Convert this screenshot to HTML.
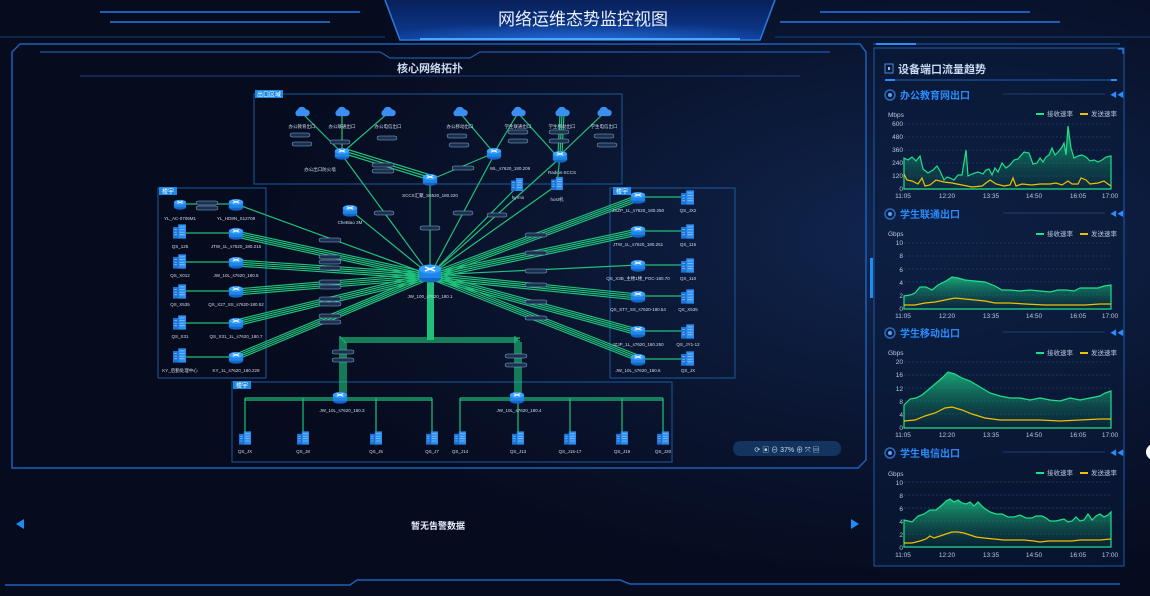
<!DOCTYPE html>
<html><head><meta charset="utf-8"><style>
html,body{margin:0;padding:0;background:#060b1e;}
svg{display:block;font-family:"Liberation Sans","Noto Sans CJK SC",sans-serif;}
</style></head><body>
<svg width="1150" height="596" viewBox="0 0 1150 596" xmlns="http://www.w3.org/2000/svg">
<defs>
<radialGradient id="bg" cx="0.8" cy="0.4" r="0.6"><stop offset="0" stop-color="#112650"/><stop offset="0.55" stop-color="#0a1530"/><stop offset="1" stop-color="#060b1e"/></radialGradient>
<linearGradient id="ban" x1="0" y1="0" x2="0" y2="1"><stop offset="0" stop-color="#08205a"/><stop offset="1" stop-color="#0d3c96"/></linearGradient>
<radialGradient id="glow" cx="0.5" cy="1" r="0.6"><stop offset="0" stop-color="#2a7cf0" stop-opacity="0.7"/><stop offset="1" stop-color="#2a7cf0" stop-opacity="0"/></radialGradient>
<linearGradient id="ga" x1="0" y1="0" x2="0" y2="1"><stop offset="0" stop-color="#1fd38a" stop-opacity="0.75"/><stop offset="1" stop-color="#0d5a4a" stop-opacity="0.2"/></linearGradient>
<symbol id="sw" viewBox="0 0 24 20"><ellipse cx="12" cy="15" rx="11" ry="4.5" fill="#1565c8"/><rect x="1" y="6" width="22" height="9" fill="#1e86e8"/><ellipse cx="12" cy="6" rx="11" ry="4.5" fill="#3aa0ff"/><path d="M7 4l10 4M17 4L7 8" stroke="#fff" stroke-width="1.4"/></symbol>
<symbol id="bd" viewBox="0 0 20 22"><rect x="0" y="4" width="8" height="18" fill="#1b74d8"/><rect x="8" y="0" width="12" height="22" fill="#2b8cf0"/><path d="M10 4h8M10 8h8M10 12h8M10 16h8M2 8h4M2 12h4M2 16h4" stroke="#9fd0ff" stroke-width="1"/></symbol>
<symbol id="cl" viewBox="0 0 24 16"><path d="M5 15a5 5 0 0 1 0-9 7 7 0 0 1 13-1 5 5 0 0 1 1 10z" fill="#3a8ff0"/></symbol>
</defs>
<rect width="1150" height="596" fill="url(#bg)"/>
<!-- header -->
<path d="M100 12H360M110 22H330M780 22H1060M820 12H1030" stroke="#1d5fb8" stroke-width="2"/>
<path d="M0 37H385M775 37H1150" stroke="#16427e" stroke-width="1"/>
<path d="M385 0H775L760 40H400Z" fill="url(#ban)"/>
<rect x="400" y="10" width="360" height="30" fill="url(#glow)"/>
<path d="M385 0L400 40H760L775 0" fill="none" stroke="#2a7be0" stroke-width="1.5"/>
<path d="M420 39H740" stroke="#4aa8ff" stroke-width="2"/>
<text x="583" y="25" text-anchor="middle" font-size="17" fill="#e8f0ff">网络运维态势监控视图</text>
<!-- left frame -->
<path d="M12 52L20 44H860L866 52V460L858 468H12Z" fill="none" stroke="#1d5fb8" stroke-width="1.5"/>
<path d="M40 52H380L390 58H470L480 52H830" fill="none" stroke="#2769c5" stroke-width="1"/>
<path d="M80 76H800" stroke="#15427e"/>
<text x="430" y="72" text-anchor="middle" font-size="11" font-weight="bold" fill="#c8d8f0">核心网络拓扑</text>
<!-- group boxes -->
<rect x="254" y="94" width="368" height="90" fill="none" stroke="#1a5a9a"/>
<rect x="255" y="90" width="28" height="8" fill="#1c8ae6"/><text x="269" y="96.5" text-anchor="middle" font-size="6" fill="#fff">出口区域</text>
<rect x="158" y="188" width="108" height="190" fill="none" stroke="#1a5a9a"/>
<rect x="159" y="187" width="18" height="8" fill="#1c8ae6"/><text x="168" y="193.5" text-anchor="middle" font-size="6" fill="#fff">楼宇</text>
<rect x="610" y="188" width="125" height="190" fill="none" stroke="#1a5a9a"/>
<rect x="613" y="187" width="18" height="8" fill="#1c8ae6"/><text x="622" y="193.5" text-anchor="middle" font-size="6" fill="#fff">楼宇</text>
<rect x="232" y="382" width="440" height="80" fill="none" stroke="#1a5a9a"/>
<rect x="233" y="381" width="18" height="8" fill="#1c8ae6"/><text x="242" y="387.5" text-anchor="middle" font-size="6" fill="#fff">楼宇</text>
<!-- links -->
<g stroke="#1fc07a" stroke-width="1.2" fill="none">
<path d="M430 275L236 204"/>
<path d="M430 273L236 231M430 275L236 233M430 277L236 235M430 279L236 237"/>
<path d="M430 273L236 260M430 275L236 262M430 277L236 264M430 279L236 266"/>
<path d="M430 273L236 289M430 275L236 291M430 277L236 293M430 279L236 295"/>
<path d="M430 273L236 320M430 275L236 322M430 277L236 324M430 279L236 326"/>
<path d="M430 273L236 354M430 275L236 356M430 277L236 358M430 279L236 360"/>
<path d="M430 273L638 195M430 275L638 197M430 277L638 199M430 279L638 201"/>
<path d="M430 273L638 229M430 275L638 231M430 277L638 233M430 279L638 235"/>
<path d="M430 275L638 265"/>
<path d="M430 273L638 294M430 275L638 296M430 277L638 298M430 279L638 300"/>
<path d="M430 273L638 329M430 275L638 331M430 277L638 333M430 279L638 335"/>
<path d="M430 273L638 355M430 275L638 357M430 277L638 359M430 279L638 361"/>
<path d="M430 275L430 180M430 275L350 210M430 275L342 155M430 275L494 155M430 275L517 187M430 275L557 185M430 275L560 158"/>
<path d="M342 153L302 113M342 153L342 113M342 153L388 113M342 153L430 180M344 151L432 178M346 149L434 176"/>
<path d="M494 153L460 113M494 153L518 113M494 153L430 180M560 155L562 113M556 155L518 113M560 155L604 113M560 155L557 185M558 155L560 113M562 155L564 113"/>
<path d="M236 204H180M236 233H180M236 262H180M236 291H180M236 323H180M236 357H180"/>
<path d="M638 197H688M638 231H688M638 265H688M638 296H688M638 331H688M638 359H688"/>
<path d="M342 338V398M344 340V398M346 342V398M340 336V398M517 338V398M519 340V398M521 342V398M515 336V398"/>
<path d="M340 338H520M342 340H518M344 342H516"/>
<path d="M245 398H432M245 400H432M460 398H663M460 400H663"/>
<path d="M245 398V438M303 398V438M376 398V438M432 398V438M460 398V438M518 398V438M570 398V438M622 398V438M663 398V438"/>
</g>
<rect x="427" y="282" width="7" height="58" fill="#1fc07a"/>
<!-- link labels -->
<g fill="#1a3050" stroke="#8ab0d0" stroke-width="0.5">
<rect x="319" y="238" width="22" height="4" rx="2"/><rect x="319" y="255" width="22" height="4" rx="2"/><rect x="319" y="260" width="22" height="4" rx="2"/><rect x="319" y="266" width="22" height="4" rx="2"/><rect x="319" y="280" width="22" height="4" rx="2"/><rect x="319" y="285" width="22" height="4" rx="2"/><rect x="319" y="297" width="22" height="4" rx="2"/><rect x="319" y="302" width="22" height="4" rx="2"/><rect x="319" y="314" width="22" height="4" rx="2"/><rect x="319" y="320" width="22" height="4" rx="2"/>
<rect x="525" y="233" width="22" height="4" rx="2"/><rect x="525" y="251" width="22" height="4" rx="2"/><rect x="525" y="269" width="22" height="4" rx="2"/><rect x="525" y="283" width="22" height="4" rx="2"/><rect x="525" y="300" width="22" height="4" rx="2"/><rect x="525" y="316" width="22" height="4" rx="2"/>
<rect x="332" y="350" width="22" height="4" rx="2"/><rect x="332" y="358" width="22" height="4" rx="2"/><rect x="505" y="354" width="22" height="4" rx="2"/><rect x="505" y="363" width="22" height="4" rx="2"/>
<rect x="420" y="226" width="20" height="4" rx="2"/><rect x="374" y="211" width="20" height="4" rx="2"/><rect x="453" y="211" width="20" height="4" rx="2"/><rect x="487" y="213" width="20" height="4" rx="2"/>
<rect x="290" y="133" width="20" height="4" rx="2"/><rect x="292" y="142" width="20" height="4" rx="2"/><rect x="330" y="140" width="20" height="4" rx="2"/><rect x="377" y="136" width="20" height="4" rx="2"/><rect x="447" y="134" width="20" height="4" rx="2"/><rect x="449" y="143" width="20" height="4" rx="2"/><rect x="508" y="130" width="20" height="4" rx="2"/><rect x="508" y="139" width="20" height="4" rx="2"/><rect x="549" y="130" width="20" height="4" rx="2"/><rect x="549" y="139" width="20" height="4" rx="2"/><rect x="594" y="134" width="20" height="4" rx="2"/><rect x="597" y="143" width="20" height="4" rx="2"/><rect x="372" y="163" width="22" height="4" rx="2"/><rect x="372" y="169" width="22" height="4" rx="2"/><rect x="452" y="166" width="22" height="4" rx="2"/>
<rect x="196" y="201" width="22" height="4" rx="2"/><rect x="196" y="206" width="22" height="4" rx="2"/>
</g>
<!-- icons -->
<g>
<use href="#cl" x="294" y="106" width="16" height="11"/><use href="#cl" x="334" y="106" width="16" height="11"/><use href="#cl" x="380" y="106" width="16" height="11"/><use href="#cl" x="452" y="106" width="16" height="11"/><use href="#cl" x="510" y="106" width="16" height="11"/><use href="#cl" x="554" y="106" width="16" height="11"/><use href="#cl" x="596" y="106" width="16" height="11"/>
<use href="#sw" x="334" y="147" width="16" height="13"/><use href="#sw" x="486" y="147" width="16" height="13"/><use href="#sw" x="552" y="150" width="16" height="13"/><use href="#sw" x="422" y="173" width="16" height="13"/><use href="#sw" x="342" y="204" width="16" height="13"/>
<use href="#bd" x="511" y="178" width="12" height="13"/><use href="#bd" x="551" y="177" width="12" height="13"/>
<rect x="421" y="265" width="18" height="16" rx="2" fill="#1a3a70"/><use href="#sw" x="418" y="263" width="24" height="20"/>
<use href="#sw" x="228" y="198" width="16" height="13"/><use href="#sw" x="228" y="227" width="16" height="13"/><use href="#sw" x="228" y="256" width="16" height="13"/><use href="#sw" x="228" y="285" width="16" height="13"/><use href="#sw" x="228" y="317" width="16" height="13"/><use href="#sw" x="228" y="351" width="16" height="13"/>
<use href="#sw" x="172" y="199" width="16" height="11"/>
<use href="#bd" x="173" y="224" width="13" height="15"/><use href="#bd" x="173" y="254" width="13" height="15"/><use href="#bd" x="173" y="284" width="13" height="15"/><use href="#bd" x="173" y="315" width="13" height="15"/><use href="#bd" x="173" y="348" width="13" height="15"/>
<use href="#sw" x="630" y="191" width="16" height="13"/><use href="#sw" x="630" y="225" width="16" height="13"/><use href="#sw" x="630" y="259" width="16" height="13"/><use href="#sw" x="630" y="290" width="16" height="13"/><use href="#sw" x="630" y="325" width="16" height="13"/><use href="#sw" x="630" y="353" width="16" height="13"/>
<use href="#bd" x="681" y="190" width="13" height="15"/><use href="#bd" x="681" y="224" width="13" height="15"/><use href="#bd" x="681" y="258" width="13" height="15"/><use href="#bd" x="681" y="289" width="13" height="15"/><use href="#bd" x="681" y="324" width="13" height="15"/><use href="#bd" x="681" y="351" width="13" height="15"/>
<use href="#sw" x="332" y="391" width="16" height="13"/><use href="#sw" x="509" y="391" width="16" height="13"/>
<use href="#bd" x="239" y="431" width="12" height="14"/><use href="#bd" x="297" y="431" width="12" height="14"/><use href="#bd" x="370" y="431" width="12" height="14"/><use href="#bd" x="426" y="431" width="12" height="14"/><use href="#bd" x="454" y="431" width="12" height="14"/><use href="#bd" x="512" y="431" width="12" height="14"/><use href="#bd" x="564" y="431" width="12" height="14"/><use href="#bd" x="616" y="431" width="12" height="14"/><use href="#bd" x="657" y="431" width="12" height="14"/>
</g>
<g font-size="4.5" fill="#d0dcee" text-anchor="middle">
<text x="302" y="128">办公教育出口</text><text x="342" y="128">办公联通出口</text><text x="388" y="128">办公电信出口</text><text x="460" y="128">办公移动出口</text><text x="518" y="128">学生联通出口</text><text x="562" y="128">学生移动出口</text><text x="604" y="128">学生电信出口</text>
<text x="320" y="171">办公出口防火墙</text><text x="510" y="170">WL_s7620_180.209</text><text x="562" y="174">Radius-SCCS</text><text x="430" y="197">SCCS汇聚_S6520_180.220</text><text x="518" y="199">hyrms</text><text x="557" y="201">host机</text><text x="350" y="224">CheBiao 3M</text>
<text x="430" y="298">JW_100_s7620_180.1</text>
<text x="180" y="220">YL_AC-0706M1</text><text x="236" y="220">YL_HD8N_S12708</text>
<text x="180" y="248">QS_125</text><text x="236" y="248">JTW_1L_s7620_180.215</text>
<text x="180" y="277">QS_X012</text><text x="236" y="277">JW_10L_s7620_180.5</text>
<text x="180" y="306">QS_X535</text><text x="236" y="306">QS_X27_SS_s7620-180.52</text>
<text x="180" y="338">QS_X31</text><text x="236" y="338">QS_X31_1L_s7620_180.7</text>
<text x="180" y="372">KY_后勤处理中心</text><text x="236" y="372">KY_1L_s7620_180.229</text>
<text x="638" y="212">JSZP_1L_s7620_180.250</text><text x="688" y="212">QS_JX2</text>
<text x="638" y="246">JTW_1L_s7620_180.251</text><text x="688" y="246">QS_115</text>
<text x="638" y="280">QS_X3B_主楼1楼_POC-180.70</text><text x="688" y="280">QS_110</text>
<text x="638" y="311">QS_ST7_SS_s7620-180.54</text><text x="688" y="311">QS_X535</text>
<text x="638" y="346">JZJP_1L_s7620_180.250</text><text x="688" y="346">QS_JY1-12</text>
<text x="638" y="372">JW_10L_s7620_180.6</text><text x="688" y="372">QS_JX</text>
<text x="342" y="412">JW_10L_s7620_180.3</text><text x="519" y="412">JW_10L_s7620_180.4</text>
<text x="245" y="453">QS_JX</text><text x="303" y="453">QS_J8</text><text x="376" y="453">QS_J5</text><text x="432" y="453">QS_J7</text><text x="460" y="453">QS_J14</text><text x="518" y="453">QS_J13</text><text x="570" y="453">QS_J15-17</text><text x="622" y="453">QS_J19</text><text x="663" y="453">QS_J20</text>
</g>
<!-- zoom controls -->
<rect x="733" y="441" width="108" height="15" rx="7" fill="#12345e"/>
<text x="787" y="452" text-anchor="middle" font-size="7" fill="#d0dcee">⟳ ▣ ⊖   37%   ⊕ ⤧ ▤</text>
<!-- alerts -->
<path d="M16 519L24 524L16 529Z" fill="#1e8cf0" transform="rotate(180 20 524)"/>
<path d="M851 519L859 524L851 529Z" fill="#1e8cf0"/>
<text x="438" y="529" text-anchor="middle" font-size="9" font-weight="bold" fill="#e8f0ff">暂无告警数据</text>
<path d="M5 585H350L357 580H620L630 584H1120" stroke="#1d5fb8" stroke-width="1.5" fill="none"/>
<!-- right panel -->
<path d="M873 44H1120" stroke="#1a5fc0"/><rect x="876" y="43" width="40" height="2" fill="#2a8cff"/>
<rect x="874" y="48" width="250" height="518" fill="#0a1a3a" fill-opacity="0.6" stroke="#1c5aa8"/>
<path d="M1118 49L1123 49L1123 54" stroke="#2a8cff" fill="none"/>
<rect x="885" y="64" width="8" height="9" fill="none" stroke="#4a8ad8"/><rect x="888" y="67" width="2" height="3" fill="#8ac0ff"/>
<text x="898" y="73" font-size="11" font-weight="bold" fill="#c8d8f0">设备端口流量趋势</text>
<path d="M885 80H1113" stroke="#1d5fb8"/><rect x="885" y="79" width="10" height="2" fill="#2a8cff"/><rect x="1111" y="79" width="6" height="2" fill="#2a8cff"/>
<g font-size="10" font-weight="bold" fill="#2a8cff">
<circle cx="890" cy="95" r="5" fill="none" stroke="#2a6ac0" stroke-width="1.5"/><circle cx="890" cy="95" r="2" fill="#5aa0f0"/><text x="900" y="99">办公教育网出口</text>
<circle cx="890" cy="214" r="5" fill="none" stroke="#2a6ac0" stroke-width="1.5"/><circle cx="890" cy="214" r="2" fill="#5aa0f0"/><text x="900" y="218">学生联通出口</text>
<circle cx="890" cy="333" r="5" fill="none" stroke="#2a6ac0" stroke-width="1.5"/><circle cx="890" cy="333" r="2" fill="#5aa0f0"/><text x="900" y="337">学生移动出口</text>
<circle cx="890" cy="453" r="5" fill="none" stroke="#2a6ac0" stroke-width="1.5"/><circle cx="890" cy="453" r="2" fill="#5aa0f0"/><text x="900" y="457">学生电信出口</text>
</g>
<g stroke="#1d3f70"><path d="M1003 94H1105M1003 213H1105M1003 332H1105M1003 452H1105"/></g>
<g fill="#2a8cff" font-size="7"><text x="1110" y="97">◀◀</text><text x="1110" y="216">◀◀</text><text x="1110" y="335">◀◀</text><text x="1110" y="455">◀◀</text></g>
<g font-size="6.5" fill="#b8c8e0">
<text x="888" y="117">Mbps</text>
<rect x="1036" y="113" width="8" height="2" fill="#1fe08a"/><text x="1047" y="116">接收速率</text><rect x="1080" y="113" width="8" height="2" fill="#f0c000"/><text x="1091" y="116">发送速率</text>
<g text-anchor="end"><text x="903" y="126">600</text><text x="903" y="139">480</text><text x="903" y="152">360</text><text x="903" y="165">240</text><text x="903" y="178">120</text><text x="903" y="191">0</text></g>
<g text-anchor="middle"><text x="903" y="198">11:05</text><text x="947" y="198">12:20</text><text x="991" y="198">13:35</text><text x="1034" y="198">14:50</text><text x="1078" y="198">16:05</text><text x="1110" y="198">17:00</text></g>
<text x="888" y="236">Gbps</text>
<rect x="1036" y="233" width="8" height="2" fill="#1fe08a"/><text x="1047" y="236">接收速率</text><rect x="1080" y="233" width="8" height="2" fill="#f0c000"/><text x="1091" y="236">发送速率</text>
<g text-anchor="end"><text x="903" y="245">10</text><text x="903" y="258">8</text><text x="903" y="272">6</text><text x="903" y="285">4</text><text x="903" y="298">2</text><text x="903" y="311">0</text></g>
<g text-anchor="middle"><text x="903" y="318">11:05</text><text x="947" y="318">12:20</text><text x="991" y="318">13:35</text><text x="1034" y="318">14:50</text><text x="1078" y="318">16:05</text><text x="1110" y="318">17:00</text></g>
<text x="888" y="355">Gbps</text>
<rect x="1036" y="352" width="8" height="2" fill="#1fe08a"/><text x="1047" y="355">接收速率</text><rect x="1080" y="352" width="8" height="2" fill="#f0c000"/><text x="1091" y="355">发送速率</text>
<g text-anchor="end"><text x="903" y="364">20</text><text x="903" y="377">16</text><text x="903" y="391">12</text><text x="903" y="404">8</text><text x="903" y="417">4</text><text x="903" y="430">0</text></g>
<g text-anchor="middle"><text x="903" y="437">11:05</text><text x="947" y="437">12:20</text><text x="991" y="437">13:35</text><text x="1034" y="437">14:50</text><text x="1078" y="437">16:05</text><text x="1110" y="437">17:00</text></g>
<text x="888" y="476">Gbps</text>
<rect x="1036" y="472" width="8" height="2" fill="#1fe08a"/><text x="1047" y="475">接收速率</text><rect x="1080" y="472" width="8" height="2" fill="#f0c000"/><text x="1091" y="475">发送速率</text>
<g text-anchor="end"><text x="903" y="485">10</text><text x="903" y="498">8</text><text x="903" y="511">6</text><text x="903" y="524">4</text><text x="903" y="537">2</text><text x="903" y="550">0</text></g>
<g text-anchor="middle"><text x="903" y="557">11:05</text><text x="947" y="557">12:20</text><text x="991" y="557">13:35</text><text x="1034" y="557">14:50</text><text x="1078" y="557">16:05</text><text x="1110" y="557">17:00</text></g>
</g>
<g stroke="#1a3560" stroke-dasharray="2 2"><path d="M904 124H1111M904 137H1111M904 150H1111M904 163H1111M904 176H1111M904 243H1111M904 256H1111M904 269H1111M904 282H1111M904 295H1111M904 362H1111M904 375H1111M904 388H1111M904 401H1111M904 414H1111M904 482H1111M904 495H1111M904 508H1111M904 521H1111M904 534H1111"/></g>
<path d="M904 189H1111M904 309H1111M904 428H1111M904 547H1111" stroke="#3a5a80"/>
<path d="M904 158L908 160L912 157L916 161L920 156L923 169L928 173L933 170L937 166L940 171L944 180L947 177L950 178L954 180L958 175L962 175L966 150L968 176L972 174L978 172L983 174L986 170L989 169L992 175L995 168L998 172L1002 163L1006 168L1010 165L1014 160L1018 159L1024 152L1029 153L1033 164L1037 163L1040 158L1043 162L1046 157L1049 155L1052 148L1055 155L1058 152L1062 147L1064 143L1066 155L1068 126L1071 148L1074 158L1078 156L1082 155L1086 157L1090 161L1094 160L1098 162L1102 160L1106 157L1111 156L1111 189L904 189Z" fill="url(#ga)" stroke="#1fe08a" stroke-width="1.2"/>
<path d="M904 174L907 180L912 181L918 184L922 178L925 186L930 185L936 180L944 182L952 183L962 185L972 187L982 186L990 180L996 184L1004 186L1010 185L1013 178L1016 186L1022 184L1032 185L1040 184L1050 184L1056 183L1062 185L1068 181L1072 184L1078 184L1081 178L1086 180L1090 184L1098 183L1104 181L1108 184L1111 186" fill="none" stroke="#f0c000" stroke-width="1.2"/>
<path d="M904 296L910 295L915 293L920 287L926 287L932 290L938 285L946 281L952 277L958 278L965 280L975 281L985 282L995 286L1002 290L1010 290L1020 291L1030 290L1040 291L1050 292L1058 290L1066 290L1074 291L1080 288L1090 288L1098 288L1104 286L1111 285L1111 309L904 309Z" fill="url(#ga)" stroke="#1fe08a" stroke-width="1.2"/>
<path d="M904 305L915 305L925 303L935 302L945 300L955 298L965 299L975 300L985 301L995 303L1010 303L1025 304L1045 305L1065 305L1085 305L1100 304L1111 304" fill="none" stroke="#f0c000" stroke-width="1.2"/>
<path d="M904 405L910 399L916 398L922 395L928 390L935 384L942 378L948 372L955 374L962 378L970 381L980 387L990 393L1000 396L1010 398L1020 398L1030 400L1040 398L1050 400L1060 401L1070 398L1080 400L1090 398L1100 396L1105 393L1111 391L1111 428L904 428Z" fill="url(#ga)" stroke="#1fe08a" stroke-width="1.2"/>
<path d="M904 421L915 420L925 416L935 413L945 408L952 407L962 410L972 414L985 418L1000 420L1020 420L1040 420L1060 421L1080 420L1100 419L1111 419" fill="none" stroke="#f0c000" stroke-width="1.2"/>
<path d="M904 520L908 521L912 522L918 516L924 514L930 510L936 510L942 505L946 501L950 499L954 502L958 500L962 503L966 504L970 502L974 506L978 502L984 508L990 512L996 514L1002 514L1008 517L1014 517L1020 515L1026 518L1032 518L1036 516L1042 516L1046 518L1050 521L1056 521L1060 520L1064 519L1068 522L1072 521L1076 517L1080 521L1084 520L1088 514L1092 520L1096 516L1100 514L1104 517L1108 515L1111 512L1111 547L904 547Z" fill="url(#ga)" stroke="#1fe08a" stroke-width="1.2"/>
<path d="M904 543L912 543L920 541L926 539L930 536L934 538L940 536L946 534L952 532L958 532L964 533L970 535L976 537L984 538L994 539L1004 540L1014 540L1024 540L1034 541L1040 542L1048 541L1056 541L1064 541L1072 541L1080 540L1090 540L1100 540L1111 539" fill="none" stroke="#f0c000" stroke-width="1.2"/>
<rect x="870" y="258" width="3" height="40" fill="#1e8cf0"/>
<circle cx="1154" cy="452" r="8" fill="#fff"/>
</svg>
</body></html>
